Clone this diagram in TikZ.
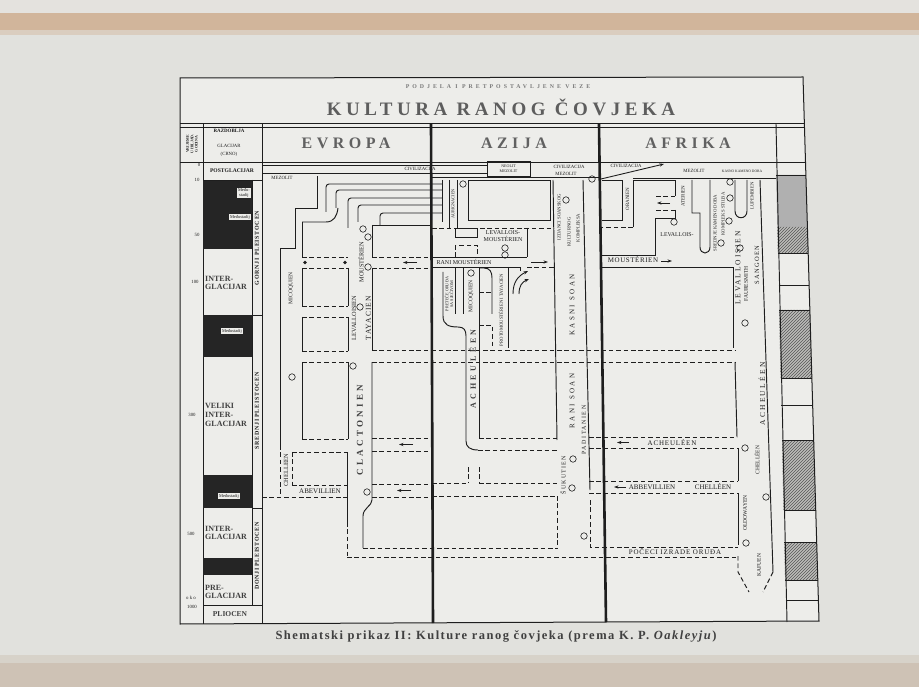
\documentclass[tikz,border=0pt]{standalone}
\usepackage{fontspec}
\setmainfont{Liberation Serif}
\usetikzlibrary{patterns,arrows.meta}
\definecolor{page}{HTML}{E1E1DD}
\definecolor{paper}{HTML}{EDEDEA}
\definecolor{wood}{HTML}{D1B59B}
\definecolor{woodlt}{HTML}{E4E2DE}
\definecolor{botband}{HTML}{CEC2B5}
\definecolor{ink}{HTML}{1E1E1E}
\definecolor{hatchfill}{HTML}{BDBDBA}
\newcommand{\lsp}[2]{{\addfontfeatures{LetterSpace=#1}#2}}
\begin{document}
\begin{tikzpicture}[x=1pt,y=-1pt,
  ln/.style={line width=0.95pt,draw=ink},
  thin/.style={line width=0.55pt,draw=ink},
  dl/.style={line width=0.95pt,draw=ink,dash pattern=on 4.6pt off 2.8pt},
  thk/.style={line width=2.6pt,draw=ink},
  fr/.style={line width=1pt,draw=ink},
  lab/.style={font=\fontsize{7}{7.5}\selectfont,inner sep=0pt,text=ink},
  vlab/.style={font=\fontsize{6.3}{7}\selectfont,inner sep=0pt,text=ink,rotate=90},
  tiny/.style={font=\fontsize{4.8}{5.2}\selectfont,inner sep=0pt,text=ink},
  circ/.style={circle,draw=ink,line width=0.6pt,minimum size=6.5pt,inner sep=0pt},
  arr/.style={line width=0.9pt,draw=ink,-{Stealth[length=4.5pt,width=3.2pt]}},
  hatchblk/.style={fill=hatchfill,postaction={pattern=north east lines,pattern color=ink!75}},
  blk/.style={fill=ink!97},
  wbox/.style={fill=paper,inner sep=1pt,font=\fontsize{4.4}{4.7}\selectfont,text=ink,align=center},
  epoch/.style={anchor=west,font=\fontsize{8}{8.6}\selectfont\bfseries,align=left,inner sep=0pt,text=ink!85},
  region/.style={font=\fontsize{16}{16}\selectfont\bfseries,text=ink!70,inner sep=0pt},
]
\useasboundingbox (0,0) rectangle (919,687);
% ---------- background ----------
\fill[page] (0,0) rectangle (919,687);
\fill[woodlt] (0,0) rectangle (919,13);
\fill[wood] (0,13) rectangle (919,30);
\fill[wood!45!page] (0,30) rectangle (919,35);
\fill[botband!50!page] (0,655) rectangle (919,663);
\fill[botband] (0,663) rectangle (919,687);
\fill[paper] (180,78)--(803,77)--(819,621)--(180,624)--cycle;

% ---------- title ----------
\node[font=\fontsize{5.8}{6}\selectfont\bfseries,text=ink!60,inner sep=0pt] (sub) at (498,87) {\lsp{52}{PODJELA I PRETPOSTAVLJENE VEZE}};
\node[font=\fontsize{19}{19}\selectfont\bfseries,text=ink!72,inner sep=0pt] (title) at (501,107) {\lsp{24}{KULTURA RANOG ČOVJEKA}};
\draw[fr] (180,124)--(804.4,124);
\draw[thin] (180,127)--(804.5,127);
\draw[ln] (180,162)--(805.5,162);

% ---------- header ----------
\draw[ln] (203,124)--(203,623.5);
\draw[ln] (262,124)--(262,623.3);
\node[tiny,rotate=90,align=center,font=\fontsize{3.9}{4.3}\selectfont\bfseries] (vrij) at (192,144) {VRIJEME\\U HILJAD.\\GODINA};
\node[tiny,font=\fontsize{5}{5.2}\selectfont\bfseries] (raz) at (229,131) {RAZDOBLJA};
\node[tiny] (glac) at (229,146) {GLACIJAR};
\node[tiny] (crno) at (229,154) {(CRNO)};
\node[region] (evr) at (346,143) {\lsp{28}{EVROPA}};
\node[region] (azi) at (514,143) {\lsp{28}{AZIJA}};
\node[region] (afr) at (688,143) {\lsp{28}{AFRIKA}};

% ---------- left time columns ----------
\draw[ln] (252,180)--(252,605);
\draw[ln] (203,180)--(262,180);
\draw[ln] (203,605)--(262,605);
\draw[ln] (252,315)--(262,315);
\draw[ln] (252,508)--(262,508);
\fill[blk] (203,181) rectangle (252,249);
\fill[blk] (203,315) rectangle (252,357);
\fill[blk] (203,475) rectangle (252,508);
\fill[blk] (203,558) rectangle (252,575);
\node[wbox,anchor=east] (m1) at (251,193) {Među-\\stadij};
\node[wbox,anchor=east] (m2) at (251,217) {Međustadij};
\node[wbox] (m3) at (232,331) {Međustadij};
\node[wbox] (m4) at (229,496) {Međustadij};
\node[tiny,font=\fontsize{5.6}{6}\selectfont\bfseries] (postg) at (232,171) {POSTGLACIJAR};
\node[epoch] (ig1) at (205,283) {INTER-\\GLACIJAR};
\node[epoch] (vig) at (205,415) {VELIKI\\INTER-\\GLACIJAR};
\node[epoch] (ig2) at (205,533) {INTER-\\GLACIJAR};
\node[epoch] (pgl) at (205,592) {PRE-\\GLACIJAR};
\node[lab,font=\fontsize{7.5}{8}\selectfont\bfseries,text=ink!85] (plio) at (230,614) {PLIOCEN};
\node[tiny] (t0) at (199,165) {0};
\node[tiny] (t10) at (197,180) {10};
\node[tiny] (t50) at (197,235) {50};
\node[tiny] (t100) at (195,282) {100};
\node[tiny] (t300) at (192,415) {300};
\node[tiny] (t500) at (191,534) {500};
\node[tiny] (toko) at (191,598) {o k o};
\node[tiny] (t1000) at (192,607) {1000};
\node[vlab,font=\fontsize{6}{6.5}\selectfont\bfseries] (gp) at (257,248) {\lsp{12}{GORNJI PLEISTOCEN}};
\node[vlab,font=\fontsize{6}{6.5}\selectfont\bfseries] (sp) at (257,411) {\lsp{12}{SREDNJI PLEISTOCEN}};
\node[vlab,font=\fontsize{6}{6.5}\selectfont\bfseries] (dp) at (257,556) {\lsp{10}{DONJI PLEISTOCEN}};

% ---------- top band ----------
\draw[ln] (262,165)--(487,165);
\draw[ln] (262,173)--(487,173);
\node[tiny] (civ1) at (420,169) {CIVILIZACIJA};
\node[tiny] (mez0) at (282,177.5) {MEZOLIT};
\draw[ln] (487,161) rectangle (530,176);
\node[tiny,align=center,font=\fontsize{4}{4.5}\selectfont] (neo) at (508.5,168.5) {NEOLIT\\MEZOLIT};
\draw[ln] (432,177)--(599,177);
\node[tiny] (civ2) at (569,167) {CIVILIZACIJA};
\node[tiny] (civ3) at (626,166) {CIVILIZACIJA};
\node[tiny] (mez1) at (566,174) {MEZOLIT};
\node[circ] (c0) at (592,179) {};
\draw[arr] (601,179)--(664,164);
\node[tiny] (mez2) at (694,171) {MEZOLIT};
\node[tiny,font=\fontsize{3.6}{4}\selectfont] (kkd) at (742,171) {KASNO KAMENO DOBA};
\draw[thin] (633,178)--(776,178);

% ---------- EUROPE ----------
\draw[ln] (317,176)--(317,208)--(295,208)--(295,248)--(280,248)--(280,445);
\draw[dl] (280,445)--(280,497);
\draw[ln,rounded corners=3pt] (326,212)--(326,184)--(442,184);
\draw[ln,rounded corners=3pt] (336,208)--(336,190)--(442,190);
\draw[ln,rounded corners=3pt] (348,228)--(348,198)--(442,198);
\draw[ln,rounded corners=3pt] (358,222)--(358,205)--(442,205);
\draw[ln,rounded corners=3pt] (380,225)--(380,213)--(442,213);
\draw[ln] (442,180)--(442,222);
\draw[ln] (302,222)--(302,257);
\draw[ln] (302,268)--(302,306);
\draw[ln] (302,317)--(302,351);
\draw[ln] (302,362)--(302,439);
\draw[ln] (348,268)--(348,306);
\draw[ln] (348,317)--(348,351);
\draw[ln] (348,362)--(348,439);
\draw[ln] (302,222)--(326,222) .. controls (334,222) and (337,216) .. (338,208);
\draw[dl] (302,257)--(348,257);
\draw[dl] (302,268)--(348,268);
\draw[dl] (302,306)--(348,306);
\draw[dl] (302,317)--(348,317);
\draw[dl] (302,351)--(348,351);
\draw[dl] (302,362)--(348,362);
\draw[dl] (302,439)--(348,439);
\fill[ink] (305,262.5) circle (1.9);
\fill[ink] (345,262.5) circle (1.9);
\draw[dl] (292,452)--(347,452);
\draw[dl] (292,485)--(347,485);
\draw[dl] (262,497)--(347,497);
\draw[dl] (292,452)--(292,485);
\draw[ln] (347,452)--(347,522);
\draw[dl] (347,522)--(347,557);
\draw[dl] (347,557)--(738,557);
\draw[ln] (372,225)--(372,257);
\draw[ln] (372,225)--(431,225);
\draw[ln] (372,268)--(372,350);
\draw[ln] (372,362)--(372,500) .. controls (372,506) and (363,508) .. (363,516)--(363,548);
\draw[dl] (363,548)--(557,548);
\draw[dl] (372,257)--(431,257);
\draw[dl] (372,268)--(431,268);
\draw[arr] (417,262.5)--(403,262.5);
\draw[dl] (372,350)--(735,350);
\draw[dl] (372,362)--(735,362);
\draw[dl] (372,438)--(431,438);
\draw[dl] (372,451)--(431,451);
\draw[arr] (413,444.5)--(399,444.5);
\draw[dl] (372,484)--(432,484);
\draw[dl] (372,497)--(432,497);
\draw[arr] (411,490.5)--(397,490.5);
\node[vlab,font=\fontsize{5.6}{6}\selectfont] (micq) at (291,288) {MICOQUIEN};
\node[vlab] (mous1) at (361,262) {MOUSTÉRIEN};
\node[vlab] (lev1) at (354,318) {LEVALLOISIEN};
\node[vlab,font=\fontsize{7.5}{8}\selectfont] (tay1) at (368.5,318) {\lsp{15}{TAYACIEN}};
\node[vlab,font=\fontsize{9}{9}\selectfont\bfseries,text=ink!85] (clac) at (360,430) {\lsp{36}{CLACTONIEN}};
\node[vlab] (chel1) at (286,470) {CHELLEEN};
\node[lab] (abv1) at (320,491) {ABEVILLIEN};
\node[circ] (c1) at (292,377) {};
\node[circ] (c2) at (353,366) {};
\node[circ] (c3) at (368,267) {};
\node[circ] (c4) at (360,307) {};
\node[circ] (c5) at (367,492) {};
\node[circ] (c6) at (363,229) {};
\node[circ] (c7) at (368,237) {};

% ---------- ASIA ----------
\draw[ln] (449,180)--(449,228);
\draw[ln] (457,180)--(457,228);
\node[vlab,font=\fontsize{4.3}{5}\selectfont] (aur) at (453,204) {AURIGNACIEN};
\node[circ] (c8) at (463,184) {};
\draw[ln] (468,180) rectangle (550,220);
\draw[dl] (432,228)--(455,228);
\draw[ln] (455,228) rectangle (477,237);
\draw[dl] (455,245) rectangle (477,257);
\draw[dl] (480,228)--(554,228);
\node[lab,align=center,font=\fontsize{6}{7}\selectfont] (levm) at (503,236) {LEVALLOIS-\\MOUSTÉRIEN};
\node[circ] (c9) at (505,248) {};
\node[circ] (c10) at (505,255) {};
\draw[ln] (527,228)--(527,257);
\draw[ln] (432,257)--(527,257);
\draw[ln] (432,267)--(508,267);
\node[lab,font=\fontsize{6}{6.3}\selectfont] (ranim) at (464,262) {RANI MOUSTÉRIEN};
\draw[dl] (527,267)--(554,267);
\draw[arr] (531,262)--(548,262);
\draw[ln] (443,272)--(443,316) .. controls (443,325) and (449,327) .. (458,327) .. controls (464,327) and (466,330) .. (466,336)--(466,441) .. controls (466,447) and (470,450) .. (478,450);
\draw[dl] (478,450)--(557,450);
\draw[ln] (455,268)--(455,314);
\draw[ln] (463,268)--(463,314);
\node[vlab,align=center,font=\fontsize{4.2}{4.6}\selectfont] (pret) at (449,294) {PRETEČE ORUĐA\\SA SJEČIVOM};
\node[vlab,font=\fontsize{5.6}{6}\selectfont] (micq2) at (471,296) {MICOQUIEN};
\node[circ] (c11) at (471,273) {};
\draw[ln] (479,268)--(479,438);
\draw[dl] (479,438)--(557,438);
\draw[ln] (479,268)--(484,268) .. controls (490,268) and (492,272) .. (492,278)--(492,314);
\draw[dl] (479,292)--(492,292);
\draw[dl] (479,325)--(492,325)--(492,348);
\draw[ln] (508,267)--(508,348);
\draw[ln] (508,267)--(520,267)--(520,271);
\draw[arr] (513,294) .. controls (513,282) and (518,276) .. (528,271);
\draw[arr] (519,294) .. controls (519,286) and (522,282) .. (529,279);
\node[vlab,font=\fontsize{4.7}{5}\selectfont] (proto) at (501,310) {PROTOMOUSTÉRIEN I TAYACIEN};
\node[vlab,font=\fontsize{8}{8}\selectfont\bfseries,text=ink!85] (ach1) at (472.5,369) {\lsp{45}{ACHEULÉEN}};
\draw[ln] (553,180)--(557,440);
\draw[ln] (583,180)--(590,490);
\draw[dl] (590,500)--(590,547)--(738,547);
\draw[dl] (557,496)--(557,548);
\draw[dl] (432,483)--(468,483);
\draw[dl] (479,483)--(557,483);
\draw[dl] (432,496)--(557,496);
\draw[dl] (468,467)--(468,483);
\draw[dl] (479,467)--(479,483);
\node[vlab,font=\fontsize{4.7}{5}\selectfont] (izd) at (559,217) {IZDANCI SOANSKOG};
\node[vlab,font=\fontsize{4.7}{5}\selectfont] (kult) at (569,232) {KULTURNOG};
\node[vlab,font=\fontsize{4.7}{5}\selectfont] (komp) at (578,228) {KOMPLEKSA};
\node[circ] (c12) at (566,200) {};
\node[vlab,font=\fontsize{7}{7}\selectfont] (kasni) at (572,305) {\lsp{35}{KASNI SOAN}};
\node[vlab,font=\fontsize{7}{7}\selectfont] (rani) at (572,401) {\lsp{35}{RANI SOAN}};
\node[vlab,font=\fontsize{6}{6}\selectfont] (padit) at (584,430) {\lsp{25}{PADITANIEN}};
\node[vlab,font=\fontsize{6}{6}\selectfont] (sukut) at (563,475) {\lsp{20}{ŠUKUTIEN}};
\node[circ] (c13) at (573,459) {};
\node[circ] (c14) at (572,488) {};
\node[circ] (c15) at (584,536) {};

% ---------- AFRICA ----------
\draw[ln] (602,180)--(622,180)--(622,220)--(602,220);
\draw[ln] (675,196)--(675,180)--(633,180)--(633,227);
\draw[dl] (633,227)--(602,227);
\draw[ln] (675,210)--(675,218)--(655,218)--(655,255)--(602,255);
\draw[dl] (656,196)--(675,196);
\draw[dl] (656,210)--(675,210);
\draw[arr] (670,203)--(657,203);
\node[vlab,font=\fontsize{5}{5}\selectfont] (oran) at (627.5,199) {ORANIEN};
\node[vlab,font=\fontsize{5}{5}\selectfont] (ater) at (683,196) {ATERIEN};
\node[circ] (c16) at (674,222) {};
\node[lab,font=\fontsize{5.8}{6}\selectfont] (levaf) at (677,235) {LEVALLOIS-};
\draw[ln] (602,267)--(733,267)--(733,348);
\node[lab] (mousaf) at (633,260) {\lsp{8}{MOUSTÉRIEN}};
\draw[arr] (661,261)--(672,261);
\draw[ln] (692,180)--(692,213)--(700,213)--(700,247) .. controls (700,255) and (710,255) .. (710,247)--(710,180);
\draw[ln] (735,180)--(735,211) .. controls (735,220) and (747,220) .. (747,211)--(747,180);
\node[vlab,font=\fontsize{4.7}{5}\selectfont] (sred) at (715,223) {SREDNJE KAMENO DOBA};
\node[vlab,font=\fontsize{4.7}{5}\selectfont] (kompst) at (723,214) {KOMPLEKS STILBA};
\node[circ] (c17) at (730,182) {};
\node[circ] (c18) at (730,198) {};
\node[circ] (c19) at (729,221) {};
\node[circ] (c20) at (721,243) {};
\node[circ] (c21) at (740,248) {};
\node[circ] (c22) at (745,323) {};
\node[vlab,font=\fontsize{4.7}{5}\selectfont] (lupe) at (752,196) {LUPEMBIEN};
\node[vlab,font=\fontsize{7.5}{8}\selectfont] (levaf2) at (738,268) {\lsp{25}{LEVALLOISIEN}};
\node[vlab,font=\fontsize{5.6}{6}\selectfont] (faur) at (746,284) {FAURESMITH};
\node[vlab,font=\fontsize{6.5}{7}\selectfont] (sang) at (757,265) {\lsp{20}{SANGOEN}};
\draw[ln] (735,362)--(737,437);
\draw[dl] (589,437)--(737,437);
\draw[dl] (589,448)--(738,448);
\node[lab] (ach2) at (672,442.5) {\lsp{12}{ACHEULÉEN}};
\draw[arr] (629,442.5)--(617,442.5);
\node[circ] (c23) at (745,448) {};
\draw[ln] (738,448)--(738,481);
\draw[dl] (589,481)--(738,481);
\draw[dl] (589,493)--(738,493);
\draw[arr] (626,487)--(614,487);
\node[lab] (abv2) at (652,487) {ABBEVILLIEN};
\node[lab] (chel2) at (713,487) {CHELLÉEN};
\draw[ln] (738,493)--(738,545);
\node[lab] (poc) at (675,551.5) {\lsp{12}{POČECI IZRADE ORUĐA}};
\draw[dl] (738,556)--(738,572)--(749,592);
\draw[ln] (760,180)--(773,572);
\draw[dl] (773,572)--(763,592);
\node[vlab,font=\fontsize{5.6}{6}\selectfont] (oldo) at (745,513) {OLDOWAYEN};
\node[circ] (c24) at (746,543) {};
\node[vlab,font=\fontsize{5.6}{6}\selectfont] (chel3) at (757,460) {CHELLÉEN};
\node[vlab,font=\fontsize{7.5}{8}\selectfont] (ach3) at (762,394) {\lsp{30}{ACHEULÉEN}};
\node[circ] (c25) at (766,497) {};
\node[vlab,font=\fontsize{5.6}{6}\selectfont] (kaf) at (759,565) {KAFUEN};

% ---------- right glacial column ----------
\fill[gray!62] (776.1,175)--(805.9,175)--(807.4,227)--(777.3,227)--cycle;
\fill[hatchblk] (777.3,227)--(807.4,227)--(808.2,253)--(777.8,253)--cycle;
\fill[hatchblk] (779.1,310)--(809.9,310)--(811.8,378)--(780.6,378)--cycle;
\fill[hatchblk] (782,440)--(813.7,440)--(815.7,510)--(783.5,510)--cycle;
\fill[hatchblk] (784.2,542)--(816.7,542)--(817.8,580)--(785.1,580)--cycle;
\draw[ln] (776,124)--(787,622);
\foreach \yy/\xa/\xb in {175/776.1/805.9,253/777.8/808.2,285/778.6/809.1,310/779.1/809.9,378/780.6/811.8,405/781.3/812.5,440/782/813.7,510/783.5/815.7,542/784.2/816.7,580/785.1/817.8,600/785.5/818.4}
  \draw[thin] (\xa,\yy)--(\xb,\yy);

% ---------- separators & frame ----------
\draw[thk] (431,124)--(433,623);
\draw[thk] (599,124)--(606,622);
\draw[fr] (180,78)--(803,77)--(819,621)--(180,624)--cycle;

% ---------- caption ----------
\node[font=\fontsize{12.5}{13}\selectfont\bfseries,text=ink!85,inner sep=0pt] (cap) at (496,636) {\lsp{12}{Shematski prikaz II: Kulture ranog čovjeka (prema K. P. \textit{Oakleyju})}};
\end{tikzpicture}
\end{document}
